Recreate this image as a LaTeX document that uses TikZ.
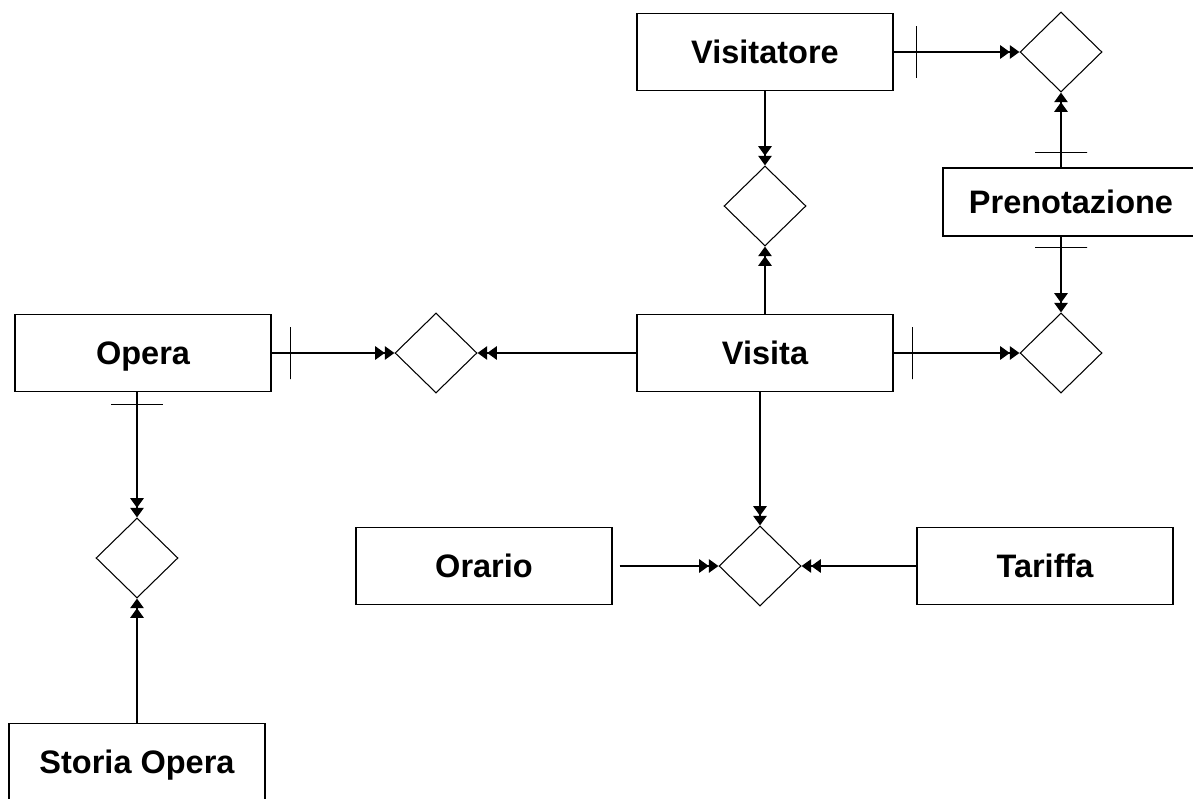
\documentclass[tikz,border=0pt]{standalone}
\usepackage{fontspec}
\setmainfont{Liberation Sans}
\usetikzlibrary{arrows.meta,shapes.geometric}

\begin{document}
\begin{tikzpicture}[x=0.02cm, y=-0.02cm,
		entity/.style={draw, line width=0.8pt, rectangle, minimum width=5.12cm, minimum height=1.54cm, inner sep=0pt, text height=13.2pt, text depth=0pt, font=\fontsize{18.5}{22}\selectfont\bfseries},
		relation/.style={draw, line width=0.6pt, diamond, minimum width=1.64cm, minimum height=1.6cm, inner sep=0pt},
		link/.style={line width=1.3pt, ->>},
		onebar/.style={draw, line width=0.6pt, rectangle, minimum width=0pt, minimum height=1.04cm, inner sep=0pt, sloped},
		>={Triangle[length=5.5pt,width=7.5pt]}]
	\useasboundingbox (0,0) rectangle (1193,798);
	\clip (0,0) rectangle (1193,798);

	\node[entity] (visitatore) at (765,52) {Visitatore};
	\node[entity, minimum height=1.36cm] (prenotazione) at (1071,202) {Prenotazione};
	\node[entity] (visita) at (765,353) {Visita};
	\node[entity] (opera) at (143,353) {Opera};
	\node[entity] (orario) at (484,566) {Orario};
	\node[entity] (tariffa) at (1045,566) {Tariffa};
	\node[entity] (storia) at (137,762) {Storia Opera};

	\node[relation] (relOperaVisita) at (436,353) {};
	\node[relation] (relVisitatoreVisita) at (765,206) {};
	\node[relation] (relVisitatorePren) at (1061,52) {};
	\node[relation] (relVisitaPren) at (1061,353) {};
	\node[relation] (relVisitaOrario) at (760,566) {};
	\node[relation] (relOperaStoria) at (137,558) {};

	\draw[link] (opera.east) -- node[onebar, pos=0.155]{} (relOperaVisita.west);
	\draw[link] (visita.west) -- (relOperaVisita.east);
	\draw[link] (visita.north) -- (relVisitatoreVisita.south);
	\draw[link] (visitatore.south) -- (relVisitatoreVisita.north);
	\draw[link] (visitatore.east) -- node[onebar, pos=0.18]{} (relVisitatorePren.west);
	\draw[link] (prenotazione.north -| relVisitatorePren) -- node[onebar, pos=0.2]{} (relVisitatorePren.south);
	\draw[link] (prenotazione.south -| relVisitaPren) -- node[onebar, pos=0.145]{} (relVisitaPren.north);
	\draw[link] (visita.east) -- node[onebar, pos=0.153]{} (relVisitaPren.west);
	\draw[link] (visita.south -| relVisitaOrario) -- (relVisitaOrario.north);
	\draw[link] ([xshift=4pt]orario.east) -- (relVisitaOrario.west);
	\draw[link] (tariffa.west) -- (relVisitaOrario.east);
	\draw[link] (opera.south -| relOperaStoria) -- node[onebar, pos=0.1]{} (relOperaStoria.north);
	\draw[link] (storia.north) -- (relOperaStoria.south);
\end{tikzpicture}
\end{document}
